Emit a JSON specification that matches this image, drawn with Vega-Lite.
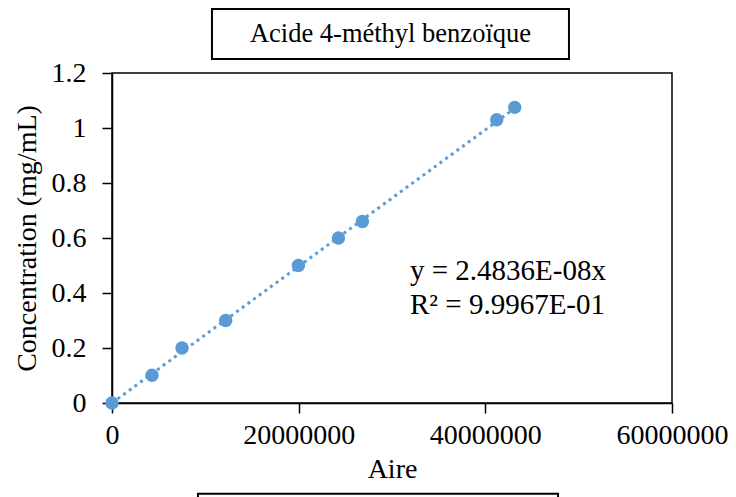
{
  "$schema": "https://vega.github.io/schema/vega-lite/v6.json",
  "width": 560,
  "height": 330,
  "autosize": {"type": "none"},
  "padding": {"left": 112, "top": 73, "right": 64, "bottom": 94},
  "background": "white",
  "config": {
    "view": {"stroke": "#000", "strokeWidth": 1.5},
    "font": "Liberation Serif",
    "axis": {
      "grid": false,
      "domainColor": "#000",
      "domainWidth": 1.5,
      "tickColor": "#000",
      "tickWidth": 1.5,
      "tickSize": 10,
      "labelFont": "Liberation Serif",
      "labelFontSize": 28,
      "labelColor": "#000",
      "labelFlush": false,
      "labelOverlap": false,
      "titleFont": "Liberation Serif",
      "titleFontSize": 28,
      "titleFontWeight": "normal",
      "titleColor": "#000"
    }
  },
  "datasets": {
    "points": [
      {"Aire": 0, "Concentration": 0},
      {"Aire": 4290000, "Concentration": 0.101},
      {"Aire": 7500000, "Concentration": 0.2},
      {"Aire": 12180000, "Concentration": 0.3},
      {"Aire": 19970000, "Concentration": 0.5},
      {"Aire": 24260000, "Concentration": 0.6},
      {"Aire": 26830000, "Concentration": 0.66},
      {"Aire": 41220000, "Concentration": 1.03},
      {"Aire": 43150000, "Concentration": 1.075}
    ],
    "trend": [
      {"Aire": 0, "Concentration": 0},
      {"Aire": 43150000, "Concentration": 1.0717}
    ]
  },
  "layer": [
    {
      "data": {"values": [{}]},
      "mark": {"type": "rect", "fill": "white", "stroke": "#000", "strokeWidth": 2, "clip": false},
      "encoding": {
        "x": {"datum": 10710000, "type": "quantitative", "scale": {"domain": [0, 60000000], "nice": false}},
        "x2": {"datum": 48960000},
        "y": {"datum": 1.4327, "type": "quantitative", "scale": {"domain": [0, 1.2], "nice": false}},
        "y2": {"datum": 1.2509}
      }
    },
    {
      "data": {"values": [{}]},
      "mark": {"type": "text", "align": "center", "baseline": "middle", "fontSize": 26.5, "color": "#000", "font": "Liberation Serif", "text": "Acide 4-méthyl benzoïque"},
      "encoding": {
        "x": {"datum": 29835000, "type": "quantitative"},
        "y": {"datum": 1.3418, "type": "quantitative"}
      }
    },
    {
      "data": {"values": [{}]},
      "mark": {"type": "rect", "fill": "white", "stroke": "#000", "strokeWidth": 2, "clip": false},
      "encoding": {
        "x": {"datum": 9210000, "type": "quantitative"},
        "x2": {"datum": 47790000},
        "y": {"datum": -0.33, "type": "quantitative"},
        "y2": {"datum": -0.5}
      }
    },
    {
      "data": {"name": "trend"},
      "mark": {"type": "line", "color": "#5B9BD5", "strokeWidth": 3, "strokeDash": [3, 4]},
      "encoding": {
        "x": {"field": "Aire", "type": "quantitative"},
        "y": {"field": "Concentration", "type": "quantitative"}
      }
    },
    {
      "data": {"name": "points"},
      "mark": {"type": "point", "filled": true, "size": 180, "color": "#5B9BD5", "opacity": 1},
      "encoding": {
        "x": {
          "field": "Aire",
          "type": "quantitative",
          "scale": {"domain": [0, 60000000], "nice": false},
          "axis": {"values": [0, 20000000, 40000000, 60000000], "format": "d", "title": "Aire", "labelPadding": 8, "titlePadding": 6}
        },
        "y": {
          "field": "Concentration",
          "type": "quantitative",
          "scale": {"domain": [0, 1.2], "nice": false},
          "axis": {"values": [0, 0.2, 0.4, 0.6, 0.8, 1, 1.2], "format": "~g", "title": "Concentration (mg/mL)", "labelPadding": 16, "titlePadding": 10}
        }
      }
    },
    {
      "data": {"values": [{}]},
      "mark": {"type": "text", "align": "left", "baseline": "alphabetic", "fontSize": 29, "lineHeight": 34, "color": "#000", "font": "Liberation Serif", "text": ["y = 2.4836E-08x", "R² = 9.9967E-01"]},
      "encoding": {
        "x": {"datum": 31930000, "type": "quantitative"},
        "y": {"datum": 0.448, "type": "quantitative"}
      }
    }
  ]
}
